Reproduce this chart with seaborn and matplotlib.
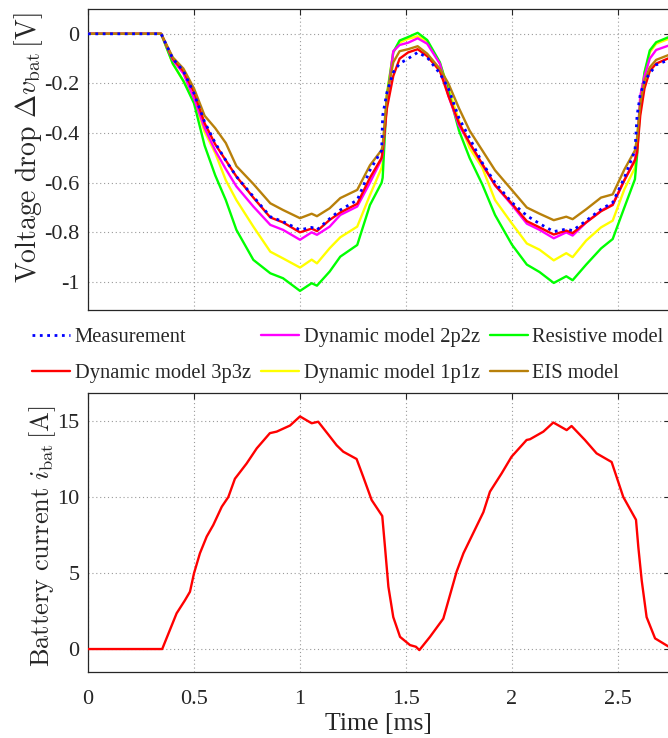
import matplotlib
matplotlib.use("Agg")
import matplotlib.pyplot as plt
import seaborn as sns
import pandas as pd
from matplotlib.lines import Line2D
from matplotlib.ticker import FuncFormatter, FixedLocator

# ---------------- data ----------------
t_v = [0.0, 0.345, 0.40, 0.45, 0.50, 0.55, 0.60, 0.65, 0.70, 0.78,
       0.86, 0.92, 1.0, 1.055, 1.08, 1.14, 1.19, 1.27, 1.33, 1.385,
       1.39, 1.41, 1.44, 1.47, 1.51, 1.555, 1.60, 1.66, 1.70, 1.75,
       1.80, 1.86, 1.92, 2.0, 2.07, 2.13, 2.197, 2.256, 2.286, 2.35,
       2.42, 2.475, 2.53, 2.58, 2.59, 2.605, 2.625, 2.65, 2.68, 2.74]

v_meas = [0, 0, -0.10, -0.15, -0.24, -0.355, -0.44, -0.51, -0.575, -0.656,
          -0.737, -0.757, -0.79, -0.78, -0.79, -0.745, -0.71, -0.67, -0.55, -0.47,
          -0.33, -0.236, -0.155, -0.12, -0.10, -0.075, -0.095, -0.16, -0.22, -0.34,
          -0.42, -0.52, -0.60, -0.68, -0.733, -0.765, -0.797, -0.787, -0.793, -0.753,
          -0.707, -0.68, -0.58, -0.47, -0.33, -0.245, -0.19, -0.16, -0.125, -0.105]

v_3p3z = [0, 0, -0.10, -0.15, -0.235, -0.36, -0.445, -0.51, -0.575, -0.66,
          -0.74, -0.76, -0.80, -0.785, -0.795, -0.75, -0.72, -0.685, -0.58, -0.50,
          -0.47, -0.30, -0.17, -0.10, -0.075, -0.062, -0.09, -0.15, -0.25, -0.36,
          -0.44, -0.525, -0.61, -0.685, -0.755, -0.78, -0.809, -0.793, -0.803, -0.76,
          -0.715, -0.69, -0.59, -0.51, -0.48, -0.33, -0.22, -0.15, -0.12, -0.098]

v_2p2z = [0, 0, -0.105, -0.16, -0.26, -0.38, -0.47, -0.545, -0.615, -0.696,
          -0.77, -0.79, -0.83, -0.80, -0.81, -0.777, -0.73, -0.696, -0.60, -0.505,
          -0.48, -0.28, -0.07, -0.045, -0.036, -0.018, -0.04, -0.121, -0.25, -0.37,
          -0.44, -0.527, -0.61, -0.69, -0.765, -0.79, -0.824, -0.80, -0.813, -0.76,
          -0.713, -0.687, -0.59, -0.507, -0.46, -0.25, -0.17, -0.10, -0.065, -0.047]

v_1p1z = [0, 0, -0.12, -0.19, -0.265, -0.395, -0.48, -0.59, -0.67, -0.777,
          -0.878, -0.905, -0.942, -0.91, -0.925, -0.864, -0.82, -0.777, -0.65, -0.54,
          -0.52, -0.24, -0.075, -0.035, -0.02, -0.01, -0.03, -0.12, -0.22, -0.35,
          -0.46, -0.54, -0.67, -0.765, -0.845, -0.87, -0.913, -0.884, -0.90, -0.833,
          -0.78, -0.753, -0.627, -0.54, -0.42, -0.28, -0.16, -0.075, -0.04, -0.02]

v_resistive = [0, 0, -0.12, -0.19, -0.28, -0.45, -0.57, -0.67, -0.79, -0.911,
               -0.965, -0.985, -1.036, -1.005, -1.015, -0.958, -0.898, -0.851, -0.69, -0.60,
               -0.58, -0.25, -0.074, -0.027, -0.013, 0.004, -0.025, -0.115, -0.23, -0.39,
               -0.50, -0.607, -0.73, -0.85, -0.93, -0.96, -1.004, -0.977, -0.993, -0.93,
               -0.865, -0.827, -0.70, -0.586, -0.49, -0.29, -0.155, -0.067, -0.034, -0.013]

v_eis = [0, 0, -0.095, -0.14, -0.22, -0.33, -0.38, -0.44, -0.533, -0.605,
         -0.683, -0.71, -0.743, -0.725, -0.735, -0.703, -0.662, -0.629, -0.53, -0.468,
         -0.45, -0.249, -0.115, -0.07, -0.062, -0.05, -0.08, -0.141, -0.20, -0.30,
         -0.39, -0.47, -0.55, -0.63, -0.70, -0.725, -0.751, -0.737, -0.747, -0.707,
         -0.66, -0.647, -0.547, -0.47, -0.42, -0.28, -0.19, -0.135, -0.105, -0.085]

t_i = [0.0, 0.35, 0.418, 0.457, 0.481, 0.50, 0.528, 0.56, 0.591, 0.631,
       0.662, 0.693, 0.748, 0.796, 0.858, 0.89, 0.953, 1.0, 1.055, 1.086,
       1.134, 1.173, 1.204, 1.267, 1.299, 1.338, 1.388, 1.401, 1.417, 1.44,
       1.472, 1.519, 1.547, 1.563, 1.613, 1.676, 1.739, 1.771, 1.865, 1.896,
       1.951, 1.998, 2.069, 2.085, 2.148, 2.195, 2.258, 2.281, 2.344, 2.399,
       2.47, 2.525, 2.585, 2.596, 2.612, 2.635, 2.675, 2.74]

i_bat = [0.0, 0.0, 2.35, 3.2, 3.77, 4.98, 6.3, 7.4, 8.16, 9.36,
         10.0, 11.2, 12.2, 13.2, 14.2, 14.3, 14.7, 15.3, 14.85, 14.95,
         14.1, 13.4, 12.98, 12.5, 11.3, 9.8, 8.75, 6.7, 4.1, 2.1,
         0.8, 0.26, 0.15, -0.07, 0.8, 2.0, 5.1, 6.3, 9.0, 10.35,
         11.55, 12.65, 13.75, 13.8, 14.3, 14.9, 14.4, 14.67, 13.75, 12.87,
         12.3, 10.0, 8.5, 6.7, 4.5, 2.1, 0.7, 0.15]

x_ticks = [0, 0.5, 1, 1.5, 2, 2.5]
v_ticks = [-1, -0.8, -0.6, -0.4, -0.2, 0]
i_ticks = [0, 5, 10, 15]

# ---------------- style ----------------
sns.set_theme(style="white")
plt.rcParams["font.family"] = ["Liberation Serif", "DejaVu Serif"]
plt.rcParams["mathtext.fontset"] = "cm"
plt.rcParams["axes.unicode_minus"] = False

DARK = "#262626"
GRID = "#9a9a9a"

series = [
    # (label, values, color, linestyle, lw, zorder)
    ("Dynamic model 1p1z", v_1p1z, "#ffff00", "-", 1.7, 3),
    ("Resistive model", v_resistive, "#00ff00", "-", 1.7, 4),
    ("Dynamic model 2p2z", v_2p2z, "#ff00ff", "-", 1.7, 5),
    ("Dynamic model 3p3z", v_3p3z, "#ff0000", "-", 1.7, 6),
    ("EIS model", v_eis, "#b8800a", "-", 1.7, 7),
    ("Measurement", v_meas, "#0000ff", ":", 2.0, 8),
]

W, H = 668, 738
fig = plt.figure(figsize=(W / 100, H / 100), dpi=100)

def px_axes(left, top, right, bottom):
    return fig.add_axes([left / W, 1 - bottom / H, (right - left) / W, (bottom - top) / H])

ax1 = px_axes(88, 9, 669.5, 310)
ax2 = px_axes(88, 393, 669.5, 672)

for lab, vals, col, ls, lw, z in series:
    df = pd.DataFrame({"t": t_v, "v": vals})
    sns.lineplot(data=df, x="t", y="v", ax=ax1, color=col, linestyle=ls,
                 linewidth=lw, estimator=None, sort=False, legend=False, zorder=z)

df_i = pd.DataFrame({"t": t_i, "i": i_bat})
sns.lineplot(data=df_i, x="t", y="i", ax=ax2, color="#ff0000", linewidth=1.7,
             estimator=None, sort=False, legend=False, zorder=5)

fmt = FuncFormatter(lambda v, p: f"{v:g}")
for ax in (ax1, ax2):
    ax.set_xlim(0, 2.743)
    ax.xaxis.set_major_locator(FixedLocator(x_ticks))
    ax.xaxis.set_major_formatter(fmt)
    ax.yaxis.set_major_formatter(fmt)
    ax.grid(True, linestyle=(0, (1, 2.5)), color=GRID, linewidth=0.8)
    ax.set_axisbelow(True)
    for s in ax.spines.values():
        s.set_color(DARK)
        s.set_linewidth(0.9)
        s.set_visible(True)
    ax.tick_params(direction="in", length=4.5, width=0.8, color=DARK,
                   top=True, right=True, labelsize=16, labelcolor=DARK)
    ax.tick_params(axis="y", pad=6)
    ax.tick_params(axis="x", pad=13)
    ax.set_xlabel("")
    ax.set_ylabel("")

ax1.set_ylim(-1.113, 0.1)
ax1.yaxis.set_major_locator(FixedLocator(v_ticks))
ax1.tick_params(axis="x", labelbottom=False)

ax2.set_ylim(-1.51, 16.84)
ax2.yaxis.set_major_locator(FixedLocator(i_ticks))

ax2.set_xlabel("Time [ms]", fontsize=18.5, color=DARK, labelpad=3)

ax1.set_ylabel(r"$\mathrm{Voltage\ drop}\ \Delta v_{\mathrm{bat}}\,[\mathrm{V}]$",
               fontsize=20, color=DARK, va="center", ha="center")
ax1.yaxis.set_label_coords((29 - 88) / 581.5, (310 - 148) / 301)
ax2.set_ylabel(r"$\mathrm{Battery\ current}\ i_{\mathrm{bat}}\,[\mathrm{A}]$",
               fontsize=19, color=DARK, va="center", ha="center")
ax2.yaxis.set_label_coords((43 - 88) / 581.5, (672 - 536) / 279)

# legend (column-major: Measurement / 3p3z | 2p2z / 1p1z | Resistive / EIS)
order = ["Measurement", "Dynamic model 3p3z", "Dynamic model 2p2z",
         "Dynamic model 1p1z", "Resistive model", "EIS model"]
style = {lab: (col, ls, lw) for lab, vals, col, ls, lw, z in series}
handles = [Line2D([], [], color=style[l][0], linestyle=style[l][1], linewidth=style[l][2])
           for l in order]
fig.legend(handles, order, loc="upper left", bbox_to_anchor=(32 / W, 1 - 328 / H),
           ncol=3, frameon=False, fontsize=14.8, borderpad=0, borderaxespad=0,
           handlelength=1.85, handletextpad=0.22, columnspacing=0.5,
           labelspacing=0.78, labelcolor=DARK)

fig.savefig("out.png", dpi=100)
